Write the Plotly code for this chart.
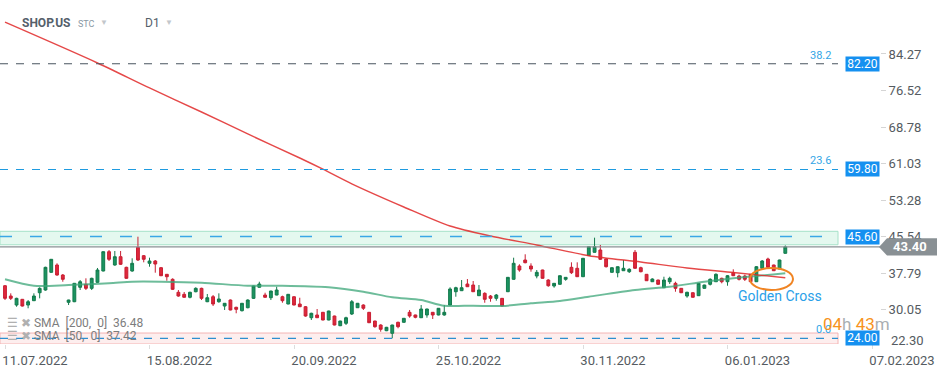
import plotly.graph_objects as go

# ---------------- data ----------------
opens = [35.17, 32.99, 31.08, 32.29, 31.08, 32.00, 33.69, 34.26, 38.01, 39.56,
         37.44, 31.66, 31.78, 34.84, 35.47, 34.62, 35.89, 38.29, 42.38, 39.56,
         41.32, 39.07, 38.29, 43.31, 41.53, 39.92, 40.41, 38.99, 37.59, 36.53,
         33.78, 33.35, 32.72, 33.90, 34.62, 31.78, 32.84, 31.78, 30.87, 32.14,
         30.60, 29.88, 30.51, 32.50, 34.84, 33.20, 32.63, 33.20, 32.84, 31.30,
         32.84, 31.30, 30.72, 28.39, 28.97, 29.54, 27.91, 28.75, 26.70, 27.21,
         29.18, 30.51, 31.08, 29.54, 27.69, 26.85, 25.64, 25.09, 27.42, 27.42,
         29.54, 28.97, 28.39, 28.97, 29.54, 28.97, 28.97, 31.08, 33.90, 34.12,
         35.53, 35.32, 33.06, 33.56, 32.99, 32.50, 32.50, 33.90, 36.53, 39.35,
         40.62, 39.35, 37.23, 38.50, 36.38, 35.11, 35.47, 36.53, 39.07, 38.86,
         37.08, 41.57, 42.25, 42.74, 40.83, 38.01, 37.93, 38.35, 38.14, 42.25,
         38.99, 37.59, 36.02, 36.38, 34.75, 36.02, 35.68, 34.62, 32.99, 33.69,
         33.06, 34.62, 35.47, 36.02, 36.74, 36.02, 37.93, 37.23, 37.23, 37.59,
         36.02, 38.86, 40.83, 39.56, 38.71, 42.04]
highs = [35.32, 33.56, 32.63, 32.36, 32.14, 33.56, 34.84, 39.20, 40.83, 39.92,
         37.65, 32.20, 35.75, 36.38, 36.74, 36.87, 38.93, 42.45, 42.74, 42.53,
         42.53, 39.20, 40.98, 45.56, 41.68, 41.11, 40.62, 39.14, 37.65, 36.74,
         34.26, 33.84, 33.90, 34.84, 34.75, 33.42, 33.20, 33.56, 31.50, 32.25,
         30.72, 31.51, 32.29, 35.17, 36.02, 33.69, 34.10, 34.96, 33.06, 33.42,
         32.90, 32.63, 30.87, 29.45, 30.24, 29.60, 29.88, 28.82, 27.75, 28.61,
         32.14, 31.52, 31.23, 29.60, 27.75, 27.00, 26.45, 26.90, 27.55, 28.33,
         30.03, 29.03, 31.08, 30.30, 29.60, 30.45, 31.08, 34.84, 34.96, 36.38,
         36.59, 36.17, 35.32, 33.78, 33.20, 33.42, 32.56, 37.02, 41.11, 39.71,
         41.83, 39.92, 38.50, 38.56, 36.53, 35.74, 37.35, 37.00, 40.13, 40.13,
         41.05, 43.50, 45.35, 43.80, 40.90, 39.05, 39.26, 40.62, 38.86, 42.74,
         39.20, 37.65, 36.74, 36.44, 37.08, 37.08, 36.02, 34.68, 33.90, 33.75,
         35.74, 35.38, 36.74, 37.80, 36.87, 37.44, 38.65, 37.51, 37.51, 37.65,
         39.35, 40.62, 41.11, 39.62, 40.68, 43.70]
lows = [32.14, 32.14, 30.72, 30.77, 30.39, 31.93, 32.50, 34.12, 37.93, 37.29,
        36.02, 31.08, 31.70, 34.26, 34.26, 34.26, 35.80, 38.22, 40.41, 39.41,
        39.56, 36.65, 38.14, 40.41, 40.13, 39.20, 37.93, 37.22, 36.23, 34.26,
        32.84, 32.63, 32.50, 33.78, 32.14, 31.70, 30.87, 31.57, 30.03, 29.96,
        29.33, 29.71, 30.39, 32.36, 34.78, 32.63, 32.14, 33.15, 31.57, 31.24,
        31.02, 30.65, 28.61, 27.91, 28.33, 27.85, 27.85, 26.78, 26.62, 26.85,
        28.97, 30.45, 30.03, 27.27, 26.27, 25.43, 25.55, 24.03, 26.15, 27.36,
        28.39, 28.27, 28.33, 28.39, 28.12, 28.90, 28.82, 31.02, 32.84, 34.05,
        34.90, 33.84, 33.00, 31.57, 31.78, 32.00, 30.80, 33.84, 36.47, 38.14,
        39.92, 38.14, 36.74, 36.68, 34.96, 34.75, 35.40, 36.23, 37.65, 37.02,
        37.02, 41.50, 42.20, 40.62, 39.03, 37.95, 36.95, 38.30, 37.87, 38.80,
        38.01, 36.17, 35.96, 35.40, 34.70, 35.53, 33.90, 33.62, 32.63, 32.65,
        33.00, 34.56, 35.22, 35.96, 35.68, 35.17, 37.22, 36.28, 36.17, 35.96,
        35.96, 38.80, 38.99, 38.29, 38.65, 41.98]
closes = [32.50, 32.50, 32.50, 30.87, 31.78, 32.99, 34.62, 39.07, 40.77, 37.44,
          36.53, 32.14, 35.68, 36.02, 34.62, 36.74, 38.50, 42.38, 40.77, 41.32,
          39.71, 36.74, 39.92, 40.62, 40.77, 40.41, 39.77, 37.29, 37.08, 34.41,
          32.99, 32.72, 33.78, 34.62, 32.50, 32.63, 31.30, 32.36, 31.45, 30.03,
          30.17, 31.45, 32.14, 35.11, 35.53, 32.72, 34.05, 34.26, 32.00, 33.35,
          31.08, 30.72, 28.75, 29.33, 28.39, 27.91, 29.81, 26.85, 27.69, 28.39,
          31.78, 31.45, 30.39, 27.33, 26.49, 25.94, 26.36, 26.85, 26.49, 28.27,
          28.75, 28.48, 30.24, 30.24, 28.97, 30.39, 29.54, 34.48, 34.75, 34.75,
          34.96, 33.90, 34.26, 32.29, 32.50, 33.20, 30.87, 36.95, 39.92, 38.50,
          40.05, 38.71, 38.01, 36.74, 35.17, 35.68, 37.29, 36.95, 37.93, 37.08,
          40.98, 43.44, 43.44, 40.77, 39.20, 38.99, 39.20, 38.86, 38.65, 38.86,
          38.14, 36.23, 36.59, 35.47, 36.38, 36.74, 34.62, 33.69, 33.78, 32.72,
          35.68, 35.32, 36.53, 37.59, 36.02, 37.29, 37.29, 36.53, 36.53, 36.02,
          39.20, 40.41, 39.07, 38.35, 40.62, 43.40]

sma200_idx = [0, 16, 25, 34, 42, 51, 55, 60, 69, 77, 84, 92, 101, 110, 118, 126, 135]
sma200_val = [91.00, 82.36, 77.07, 71.98, 67.32, 62.23, 59.85, 56.75, 51.85, 47.82,
              45.71, 43.80, 41.53, 40.20, 38.93, 37.97, 36.87]
sma50_idx = [0, 5, 11, 18, 22, 27, 34, 42, 48, 56, 62, 67, 72, 76, 81, 86, 91, 96,
             101, 109, 115, 121, 126, 135]
sma50_val = [36.53, 35.17, 35.32, 35.68, 36.02, 36.02, 35.81, 35.17, 35.17, 34.84,
             33.90, 32.72, 32.14, 30.94, 30.94, 30.87, 31.45, 31.93, 32.84, 34.26,
             34.96, 36.02, 36.74, 37.80]

date_tick_idx = [0, 25, 50, 75, 100, 125, 150]
date_tick_text = ["11.07.2022", "15.08.2022", "20.09.2022", "25.10.2022",
                  "30.11.2022", "06.01.2023", "07.02.2023"]
price_ticks = [30.05, 37.79, 45.54, 53.28, 61.03, 68.78, 76.52, 84.27]
price_tick_bottom = 22.30

fib_levels = [82.20, 59.80, 24.00]
fib_names = ["38.2", "23.6", "0.0"]
resistance_zone = [43.85, 46.70]
resistance_level = 45.60
support_zone_top = 25.15
last_price = 43.40
sma200_last = 36.48
sma50_last = 37.42

# ---------------- layout geometry ----------------
W, H = 949, 370
PW, PH = 880, 344            # plot area in px (left/top at 0)
X0_PX, DX_PX = 5.0, 5.78     # px of first bar, px per bar
Y_REF_V, Y_REF_PX, PX_PER_UNIT = 45.6, 236.5, 4.72

def px_to_x(px):
    return (px - X0_PX) / DX_PX

def py_to_y(py):
    return Y_REF_V - (py - Y_REF_PX) / PX_PER_UNIT

def xp(px):       # paper x
    return px / PW

def yp(py):       # paper y
    return 1 - py / PH

xr = [px_to_x(0), px_to_x(PW)]
yr = [py_to_y(PH), py_to_y(0)]
zone_end = px_to_x(838)

idx = list(range(len(opens)))

fig = go.Figure()
fig.add_trace(go.Candlestick(
    x=idx, open=opens, high=highs, low=lows, close=closes,
    increasing=dict(fillcolor="#1b9461", line=dict(color="#137a4c", width=1)),
    decreasing=dict(fillcolor="#e0283c", line=dict(color="#c81f33", width=1)),
    whiskerwidth=0, hoverinfo="skip", showlegend=False))
fig.add_trace(go.Scatter(x=sma50_idx, y=sma50_val, mode="lines",
                         line=dict(color="rgba(60,165,120,0.75)", width=2,
                                   shape="spline", smoothing=0.8),
                         hoverinfo="skip", showlegend=False))
fig.add_trace(go.Scatter(x=sma200_idx, y=sma200_val, mode="lines",
                         line=dict(color="rgba(225,40,40,0.85)", width=1.4,
                                   shape="spline", smoothing=0.8),
                         hoverinfo="skip", showlegend=False))

shapes = []
# resistance zone
shapes.append(dict(type="rect", xref="x", yref="y", x0=xr[0], x1=zone_end,
                   y0=resistance_zone[0], y1=resistance_zone[1],
                   fillcolor="rgba(205,243,226,0.55)", line=dict(color="#a6e2c8", width=1),
                   layer="below"))
# support zone
shapes.append(dict(type="rect", xref="x", yref="y", x0=xr[0], x1=zone_end,
                   y0=yr[0], y1=support_zone_top,
                   fillcolor="rgba(252,226,226,0.6)", line=dict(color="#f4b4b4", width=1),
                   layer="below"))
# resistance dashed line
shapes.append(dict(type="line", xref="x", yref="y", x0=xr[0], x1=zone_end,
                   y0=resistance_level, y1=resistance_level,
                   line=dict(color="#3aa7e6", width=1.3, dash="12px,18px")))
# fib lines
fib_colors = ["#4a5560", "#1e9be0", "#2d8fd0"]
for lvl, col in zip(fib_levels, fib_colors):
    shapes.append(dict(type="line", xref="x", yref="y", x0=xr[0], x1=zone_end,
                       y0=lvl, y1=lvl, line=dict(color=col, width=1.2, dash="8px,8px")))
# last price line
shapes.append(dict(type="line", xref="paper", yref="y", x0=0, x1=1,
                   y0=last_price, y1=last_price, line=dict(color="#8a9094", width=1.2)))
# last price tag (arrow)
hh = 8.6 / PX_PER_UNIT
shapes.append(dict(type="path", xref="paper", yref="y", layer="above",
                   path=f"M {xp(879)},{last_price} L {xp(887)},{last_price + hh} "
                        f"L {xp(937)},{last_price + hh} L {xp(937)},{last_price - hh} "
                        f"L {xp(887)},{last_price - hh} Z",
                   fillcolor="#899094", line=dict(width=0)))
# golden cross ellipse
shapes.append(dict(type="circle", xref="x", yref="y",
                   x0=px_to_x(750), x1=px_to_x(793), y0=py_to_y(290), y1=py_to_y(268),
                   line=dict(color="#f08423", width=2)))

ann = []
FONT = "Roboto, Arial, sans-serif"
# price tags
for lvl in fib_levels[:2] + [resistance_level, fib_levels[2]]:
    ann.append(dict(xref="paper", yref="y", x=1, y=lvl, xanchor="right", yanchor="middle",
                    text=f"{lvl:.2f}", showarrow=False, bgcolor="#1590f0", width=33, height=14,
                    borderpad=0, font=dict(family=FONT, size=12, color="white")))
# fib level names
for lvl, name in zip(fib_levels, fib_names):
    ann.append(dict(xref="paper", yref="y", x=xp(833), y=lvl, xanchor="right", yanchor="bottom",
                    yshift=0, text=name, showarrow=False,
                    font=dict(family=FONT, size=11, color="#33a6e6")))
# last price label
ann.append(dict(xref="paper", yref="y", x=xp(910), y=last_price, xanchor="center",
                yanchor="middle", text=f"<b>{last_price:.2f}</b>", showarrow=False,
                font=dict(family=FONT, size=13, color="white")))
# bottom price tick (clamped)
ann.append(dict(xref="paper", yref="paper", x=xp(889), y=yp(340), xanchor="left",
                yanchor="middle", text=f"{price_tick_bottom:.2f}", showarrow=False,
                font=dict(family=FONT, size=13, color="#555b61")))
# golden cross text
ann.append(dict(xref="paper", yref="paper", x=xp(780), y=yp(296), xanchor="center",
                yanchor="middle", text="Golden Cross", showarrow=False,
                font=dict(family=FONT, size=14, color="#2aa0e8")))
# countdown
ann.append(dict(xref="paper", yref="paper", x=xp(821), y=yp(324), xanchor="left",
                yanchor="middle", showarrow=False,
                text="<span style='color:#f7931e'>04</span><span style='color:#a9aeb2'>h</span> "
                     "<span style='color:#f7931e'>43</span><span style='color:#a9aeb2'>m</span>",
                font=dict(family=FONT, size=17)))
# header
ann.append(dict(xref="paper", yref="paper", x=xp(20), y=yp(23), xanchor="left", yanchor="middle",
                text="<b>SHOP.US</b>", showarrow=False,
                font=dict(family=FONT, size=12, color="#55606a")))
ann.append(dict(xref="paper", yref="paper", x=xp(76), y=yp(24), xanchor="left", yanchor="middle",
                text="STC", showarrow=False, font=dict(family=FONT, size=9, color="#8a98a4")))
ann.append(dict(xref="paper", yref="paper", x=xp(98), y=yp(22), xanchor="left", yanchor="middle",
                text="▼", showarrow=False, font=dict(family=FONT, size=8, color="#c3c7cb")))
ann.append(dict(xref="paper", yref="paper", x=xp(143), y=yp(23), xanchor="left", yanchor="middle",
                text="D1", showarrow=False, font=dict(family=FONT, size=12, color="#55606a")))
ann.append(dict(xref="paper", yref="paper", x=xp(163), y=yp(22), xanchor="left", yanchor="middle",
                text="▼", showarrow=False, font=dict(family=FONT, size=8, color="#c3c7cb")))
# indicator legend
for row, (txt, py) in enumerate([(f"SMA  [200,  0]  {sma200_last:.2f}", 323),
                                 (f"SMA  [50,  0]  {sma50_last:.2f}", 336)]):
    ann.append(dict(xref="paper", yref="paper", x=xp(5), y=yp(py), xanchor="left",
                    yanchor="middle", showarrow=False,
                    text="<span style='color:#b0b0b0'>☰ ✖</span> " + txt,
                    font=dict(family=FONT, size=12, color="#7d7d7d")))

fig.update_layout(
    width=W, height=H,
    margin=dict(l=0, r=W - PW, t=0, b=H - PH),
    paper_bgcolor="white", plot_bgcolor="white",
    shapes=shapes, annotations=ann, showlegend=False,
    font=dict(family=FONT),
    xaxis=dict(range=xr, tickmode="array", tickvals=date_tick_idx, ticktext=date_tick_text,
               ticks="outside", ticklen=4, tickcolor="#dddddd", showgrid=False, zeroline=False,
               showline=False, ticklabelshift=30, ticklabeloverflow="allow",
               tickfont=dict(family=FONT, size=13, color="#555b61"),
               rangeslider=dict(visible=False), fixedrange=True),
    yaxis=dict(range=yr, side="right", tickmode="array", tickvals=price_ticks,
               ticktext=[f"{v:.2f}" for v in price_ticks], ticks="outside", ticklen=5,
               tickcolor="#d5d5d5", showgrid=False, zeroline=False, showline=False,
               tickfont=dict(family=FONT, size=13, color="#555b61"), fixedrange=True),
)

fig.write_html("out.html", config={"displayModeBar": False},
               post_script="document.body.style.margin='0';document.body.style.overflow='hidden';")
